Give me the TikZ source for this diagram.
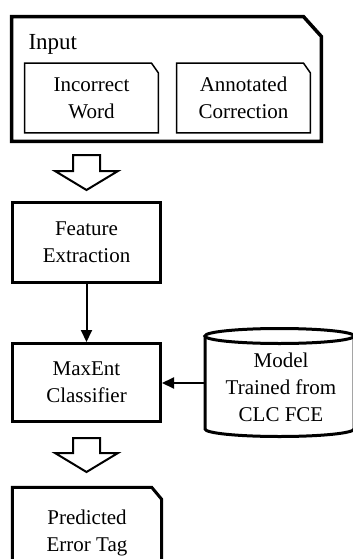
\documentclass[tikz,border=0pt]{standalone}
\usepackage{fontspec}
\setmainfont{Liberation Serif}
\usetikzlibrary{arrows.meta}
\tikzset{
	boxtext/.style={align=center,font=\fontsize{21}{27}\selectfont},
	block/.style={draw,line width=3pt,boxtext,inner sep=0pt},
	plain/.style={boxtext,inner sep=0pt},
	thick border/.style={line width=3pt},
	thin border/.style={line width=1.5pt},
	bigarrow/.style={draw,line width=2pt,fill=white},
	flow/.style={line width=2pt,-{Triangle[length=12pt,width=11pt]}}
}
\begin{document}
\begin{tikzpicture}[x=1pt,y=1pt]
	\useasboundingbox (0,0) rectangle (353,-559);
	\clip (0,0) rectangle (353,-559);

	\node (input) [plain,minimum width=309.5pt,minimum height=124.5pt] at (166.5,-79) {};
	\node (inputlbl) [anchor=base west,font=\fontsize{23}{27}\selectfont] at (25,-50) {Input};
	\node (incorrect) [plain,minimum width=133.5pt,minimum height=69.5pt] at (91.5,-98) {Incorrect\\Word};
	\node (correction) [plain,minimum width=133.5pt,minimum height=69.5pt] at (243.5,-98) {Annotated\\Correction};

	\draw[thick border,line width=3.5pt] (input.south west) -- (input.north west) -- ([xshift=-18]input.north east)
		-- ([yshift=-20]input.north east) -- (input.south east) -- cycle;
	\draw[thin border] (incorrect.south west) -- (incorrect.north west) -- ([xshift=-7]incorrect.north east)
		-- ([yshift=-10]incorrect.north east) -- (incorrect.south east) -- cycle;
	\draw[thin border] (correction.south west) -- (correction.north west) -- ([xshift=-7]correction.north east)
		-- ([yshift=-10]correction.north east) -- (correction.south east) -- cycle;

	\node (feature) [block,minimum width=148pt,minimum height=80pt] at (86.5,-242.5) {Feature\\Extraction};
	\node (maxent) [block,minimum width=148pt,minimum height=78pt] at (86.5,-382.5) {MaxEnt\\Classifier};
	\node (predicted) [plain,minimum width=149pt,minimum height=91pt] at (87,-533) {Predicted\\Error Tag};
	\draw[thick border] (predicted.south west) -- (predicted.north west) -- ([xshift=-10]predicted.north east)
		-- ([yshift=-12]predicted.north east) -- (predicted.south east) -- cycle;

	% model store
	\draw[thick border] (279.5,-336) ellipse [x radius=74.5, y radius=7.5];
	\draw[thick border] (205,-336) -- (205,-429) arc [start angle=180, end angle=360, x radius=74.5, y radius=7.5] -- (354,-336);
	\node (model) [boxtext] at (281,-387.5) {Model\\Trained from\\CLC FCE};
	\coordinate (modelw) at (205,-383);

	% block arrows
	\draw[bigarrow] (73,-155) -- (100,-155) -- (100,-171) -- (118,-171) -- (86.5,-190) -- (55,-171) -- (73,-171) -- cycle;
	\draw[bigarrow] (73,-438) -- (100,-438) -- (100,-453) -- (118,-453) -- (86.5,-472) -- (55,-453) -- (73,-453) -- cycle;

	\draw[flow] (feature) -- (maxent);
	\draw[flow] (modelw) -- (modelw -| maxent.east);
\end{tikzpicture}
\end{document}
